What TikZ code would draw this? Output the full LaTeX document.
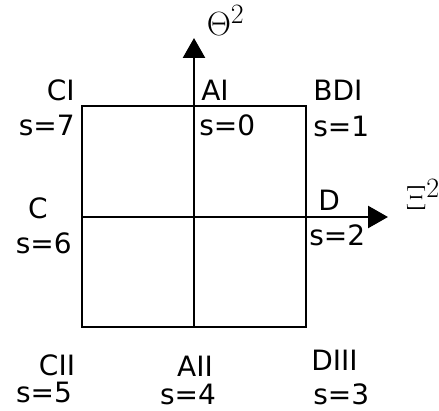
\RequirePackage{fix-cm}
\documentclass[tikz,border=0pt]{standalone}
\usepackage{fontspec}
\setsansfont{DejaVu Sans}
\usetikzlibrary{arrows.meta, positioning}
\tikzset{
  every picture/.style={line width=2.6pt, x=1pt, y=1pt},
  lbl/.style={font=\sffamily\fontsize{28}{30}\selectfont, inner sep=0pt},
  axlabel/.style={font=\Huge, scale=1.35, inner sep=0pt, anchor=base west},
  axis/.style={-{Triangle[length=20pt, width=22pt]}},
}

\begin{document}
\begin{tikzpicture}
  \useasboundingbox (0,0) rectangle (439,410);
  % square and the two axes
  \coordinate (sw) at (82,83);
  \coordinate (ne) at (306,304);
  \coordinate (ybot) at (194,83);
  \coordinate (ytop) at (194,372);
  \coordinate (xleft) at (82,193);
  \coordinate (xright) at (388,193);
  \draw (sw) rectangle (ne);
  \draw[axis] (ybot) -- (ytop);
  \draw[axis] (xleft) -- (xright);
  \node[axlabel] (theta) at (205,374) {$\Theta^2$};
  \node[axlabel] (xi) at (404,200) {$\Xi^2$};
  % class names and s values
  \foreach \id/\txt/\pos/\an in {
    ci/CI/{76,309}/base east, ci-s/s=7/{76,274}/base east,
    ai/AI/{200,309}/base west, ai-s/s=0/{198,274}/base west,
    bdi/BDI/{312,309}/base west, bdi-s/s=1/{312,273}/base west,
    c/C/{38,191}/base, c-s/s=6/{73,157}/base east,
    d/D/{317,199}/base west, d-s/s=2/{308,164}/base west,
    cii/CII/{57,35}/base, cii-s/s=5/{44,8}/base,
    aii/AII/{195,34}/base, aii-s/s=4/{188,6}/base,
    diii/DIII/{310,40}/base west, diii-s/s=3/{312,6}/base west}{
    \node[lbl, anchor=\an] (\id) at (\pos) {\txt};
  }
\end{tikzpicture}
\end{document}
